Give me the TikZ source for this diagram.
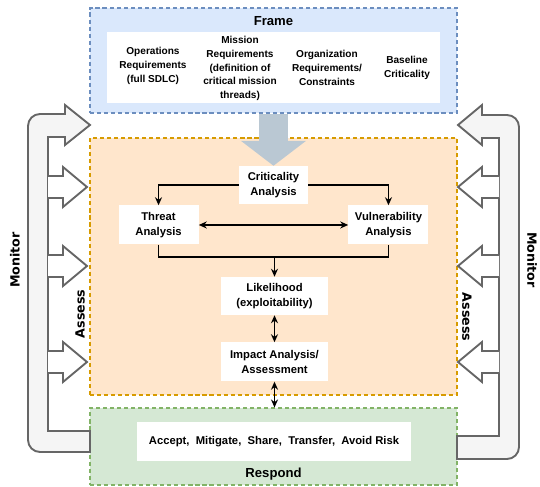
\documentclass[tikz,border=0pt]{standalone}
\usepackage{fontspec}
\setmainfont{Liberation Sans}
\newfontfamily\sidefont{DejaVu Sans}
\usetikzlibrary{arrows, arrows.meta, positioning}
\definecolor{framefill}{HTML}{DAE8FC}
\definecolor{frameline}{HTML}{6C8EBF}
\definecolor{assessfill}{HTML}{FFE6CC}
\definecolor{assessline}{HTML}{D79B00}
\definecolor{respondfill}{HTML}{D5E8D4}
\definecolor{respondline}{HTML}{82B366}
\definecolor{bandline}{HTML}{666666}
\definecolor{bandfill}{HTML}{F5F5F5}
\definecolor{bigarrowfill}{HTML}{BAC8D3}
\tikzset{
  region/.style={
    minimum width=11.01cm,
    inner sep=0pt,
    line width=0.9pt,
    dash pattern=on 3.5pt off 2.5pt
  },
  whitebox/.style={
    fill=white,
    inner sep=0pt
  },
  stepbox/.style={
    fill=white,
    inner sep=0pt,
    align=center,
    font=\fontsize{9.6}{12.8}\selectfont\bfseries
  },
  reqtext/.style={
    align=center,
    font=\fontsize{8.6}{11.7}\selectfont\bfseries
  },
  heading/.style={font=\fontsize{11.2}{13}\selectfont\bfseries},
  sideheading/.style={font=\sidefont\fontsize{10.8}{13}\selectfont\bfseries},
  sideband/.style={draw=bandline, fill=bandfill, line width=1.6pt},
  sidehead/.style={draw=bandline, fill=white, line width=1.6pt},
  flow/.style={draw,line width=1.3pt,->,>={Stealth[length=2.4mm,width=2.1mm]}}
}
\begin{document}
\begin{tikzpicture}[x=0.03cm, y=-0.03cm]
  \useasboundingbox (0,0) rectangle (540,487);
  \fill[white] (0,0) rectangle (540,487);
  % the three regions
  \node (frame) [region, draw=frameline, fill=framefill, minimum height=3.15cm] at (273.5,60.5) {};
  \node (assessbox) [region, draw=assessline, fill=assessfill, minimum height=7.71cm] at (273.5,266.5) {};
  \node (respondbox) [region, draw=respondline, fill=respondfill, minimum height=2.31cm] at (273.5,446.5) {};
  \node (frametitle) [heading] at (273.5,21) {Frame};
  \node (respondtitle) [heading] at (273.5,474) {Respond};
  % frame contents
  \node (reqs) [whitebox, minimum width=9.99cm, minimum height=2.13cm] at (273.5,67.5) {};
  \node (opsreq) [reqtext] at (153,66) {Operations\\Requirements\\(full SDLC)};
  \node (missionreq) [reqtext] at (240,68.5) {Mission\\Requirements\\(definition of\\critical mission\\threads)};
  \node (orgreq) [reqtext] at (327,68) {Organization\\Requirements/\\Constraints};
  \node (baseline) [reqtext] at (407,68) {Baseline\\Criticality};
  % assess steps
  \node (crit) [stepbox, minimum width=2.07cm, minimum height=1.14cm] at (273.5,185) {Criticality\\Analysis};
  \node (threat) [stepbox, minimum width=2.4cm, minimum height=1.17cm, below left=0.03cm and 1.2cm of crit] {Threat\\Analysis};
  \node (vuln) [stepbox, minimum width=2.4cm, minimum height=1.17cm, below right=0.03cm and 1.2cm of crit] {Vulnerability\\Analysis};
  \node (likely) [stepbox, minimum width=3.21cm, minimum height=1.14cm] at (274.5,296) {Likelihood\\(exploitability)};
  \node (impact) [stepbox, minimum width=3.21cm, minimum height=1.17cm, below=0.81cm of likely] {Impact Analysis/\\Assessment};
  \node (actions) [stepbox, minimum width=8.22cm, minimum height=1.17cm] at (274,441.5) {Accept,~ Mitigate,~ Share,~ Transfer,~ Avoid Risk};
  \coordinate [above=0.6cm of likely.north] (merge);
  % big arrow from frame
  \draw [line width=0.87cm, draw=bigarrowfill, -{Triangle[length=0.75cm, width=1.92cm]}] (frame.south) -- (crit.north);
  \draw [flow] (crit.west) -| (threat.north);
  \draw [flow] (crit.east) -| (vuln.north);
  \draw [flow, <->] (threat) -- (vuln);
  \draw [line width=1.3pt] (threat.south) |- (merge) -| (vuln.south);
  \draw [flow] (merge) -- (likely.north);
  \draw [flow, <->] (likely) -- (impact);
  \draw [flow, <->] (impact.south) -- (impact.south |- respondbox.north);
  % monitor / assess loops
  \draw [sideband] (90,125) -- (65,105) -- (65,114) -- (40,114)
    arc [start angle=270, end angle=180, radius=12] -- (28,440)
    arc [start angle=180, end angle=90, radius=12] -- (90,452) -- (90,431)
    -- (48,431) -- (48,137) -- (65,137) -- (65,145) -- cycle;
  \draw [sideband] (458,125) -- (482,105) -- (482,115) -- (507,115)
    arc [start angle=270, end angle=360, radius=12] -- (519,447)
    arc [start angle=0, end angle=90, radius=12] -- (457,459) -- (457,436)
    -- (499,436) -- (499,138) -- (482,138) -- (482,145) -- cycle;
  \foreach \c in {187,266,362} {
    \draw [sidehead] (48,{\c-11}) -- (63,{\c-11}) -- (63,{\c-20}) -- (87,\c)
      -- (63,{\c+20}) -- (63,{\c+11}) -- (48,{\c+11});
    \draw [sidehead] (499,{\c-11}) -- (482,{\c-11}) -- (482,{\c-20}) -- (458,\c)
      -- (482,{\c+20}) -- (482,{\c+11}) -- (499,{\c+11});
  }
  \node (monitorl) [sideheading, rotate=90] at (15,260) {Monitor};
  \node (assessl) [sideheading, rotate=90] at (80,314) {Assess};
  \node (monitorr) [sideheading, rotate=-90] at (532,260) {Monitor};
  \node (assessr) [sideheading, rotate=-90] at (467,317) {Assess};
\end{tikzpicture}
\end{document}
